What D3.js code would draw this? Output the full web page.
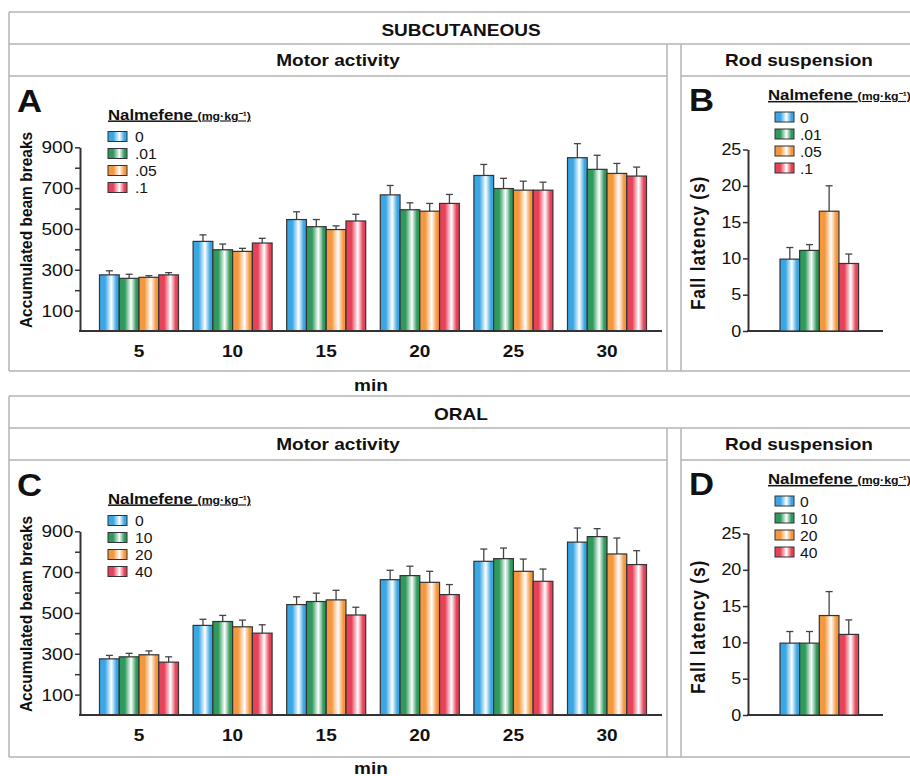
<!DOCTYPE html>
<html>
<head>
<meta charset="utf-8">
<script src="https://cdn.jsdelivr.net/npm/d3@7"></script>
<style>
	body { margin: 0; background: #fff; }
	text { font-family: "Liberation Sans", Arial, sans-serif; fill: #111; }
</style>
</head>
<body>
<div id="figure"></div>
<script>
// time points (min) on the motor activity x axis
var minutes = ["5", "10", "15", "20", "25", "30"];

// nalmefene doses (mg/kg) for each route
var scDoses   = ["0", ".01", ".05", ".1"];
var oralDoses = ["0", "10", "20", "40"];

// y tick values
var motorTicks      = [100, 300, 500, 700, 900];
var motorMinorTicks = [200, 400, 600, 800];
var rodTicks        = [0, 5, 10, 15, 20, 25];

// subcutaneous motor activity, accumulated beam breaks (rows = minutes, cols = doses)
var scMotorMean = [
	[275, 258, 263, 275],
	[439, 398, 390, 431],
	[546, 511, 497, 539],
	[667, 594, 587, 625],
	[762, 698, 690, 690],
	[849, 792, 772, 759]
];
var scMotorSem = [
	[20, 20, 8, 11],
	[32, 28, 15, 23],
	[38, 35, 18, 33],
	[46, 34, 38, 44],
	[54, 50, 44, 39],
	[69, 69, 49, 44]
];

// oral motor activity
var oralMotorMean = [
	[275, 285, 295, 259],
	[439, 458, 432, 401],
	[541, 556, 564, 490],
	[663, 683, 650, 590],
	[753, 766, 704, 655],
	[847, 874, 789, 737]
];
var oralMotorSem = [
	[17, 17, 19, 26],
	[30, 30, 33, 41],
	[38, 41, 47, 38],
	[46, 46, 54, 49],
	[60, 52, 60, 60],
	[69, 39, 78, 68]
];

// rod suspension, fall latency (s)
var scRodMean   = [9.9, 11.1, 16.5, 9.3];
var scRodSem    = [1.6, 0.8, 3.5, 1.3];
var oralRodMean = [9.9, 9.9, 13.7, 11.1];
var oralRodSem  = [1.6, 1.6, 3.3, 2.0];

// bar colours, one per dose
var doseColors = ["#3aa6e4", "#2f9a5c", "#f3983f", "#e6435a"];

function main() {

	const SVG_WIDTH  = 910;
	const SVG_HEIGHT = 776;
	// the figure's lettering is a bit wider than plain Arial
	const SX = 1.12;

	var svg = d3.select("#figure")
		.append("svg")
		.attr("width", SVG_WIDTH)
		.attr("height", SVG_HEIGHT);

	svg.append("rect")
		.attr("width", SVG_WIDTH)
		.attr("height", SVG_HEIGHT)
		.attr("fill", "#fff");

	// shiny gradients for the bars
	var defs = svg.append("defs");
	doseColors.forEach(function(c, i) {
		var grad = defs.append("linearGradient")
			.attr("id", "grad" + i)
			.attr("x1", "0%").attr("x2", "100%")
			.attr("y1", "0%").attr("y2", "0%");
		[[0, c], [0.28, c], [0.6, "#ffffff"], [0.86, c], [1, c]].forEach(function(s) {
			grad.append("stop").attr("offset", s[0]).attr("stop-color", s[1]);
		});
	});

	// text helper, stretches glyphs horizontally
	function label(g, str, x, y, size, weight, anchor, rotate) {
		return g.append("text")
			.attr("transform", "translate(" + x + "," + y + ") scale(" + SX + ",1)" + (rotate ? " rotate(-90)" : ""))
			.attr("font-size", size)
			.attr("font-weight", weight || "normal")
			.attr("text-anchor", anchor || "start")
			.text(str);
	}

	function line(g, x1, y1, x2, y2) {
		g.append("line").attr("x1", x1).attr("y1", y1).attr("x2", x2).attr("y2", y2);
	}

	function styleAxis(ax, size, weight) {
		ax.attr("font-size", size).attr("font-weight", weight || "normal");
		ax.selectAll("line").attr("stroke", "#333").attr("stroke-width", 1.5);
		ax.selectAll("path").attr("stroke", "#333").attr("stroke-width", 2);
		ax.selectAll("text").attr("transform", "scale(" + SX + ",1)");
	}

	function legend(g, x, y, doses, swatchX, textX) {
		var title = g.append("text")
			.attr("transform", "translate(" + x + "," + y + ") scale(" + SX + ",1)")
			.attr("font-weight", "bold")
			.attr("text-decoration", "underline");
		title.append("tspan").attr("font-size", 15).text("Nalmefene ");
		title.append("tspan").attr("font-size", 11).text("(mg·kg⁻¹)");

		doses.forEach(function(d, i) {
			var cy = y + 17 * (i + 1);
			g.append("rect")
				.attr("x", swatchX).attr("y", cy - 5)
				.attr("width", 19).attr("height", 10)
				.attr("fill", "url(#grad" + i + ")")
				.attr("stroke", "#333").attr("stroke-width", 1);
			label(g, d, textX, cy + 5.5, 14);
		});
	}

	function errorBars(g, rows, xPos, y) {
		var eb = g.append("g").attr("stroke", "#444").attr("stroke-width", 1.3);
		rows.forEach(function(r) {
			var cx = xPos(r);
			line(eb, cx, y(r.mean), cx, y(r.mean + r.sem));
			line(eb, cx - 3.5, y(r.mean + r.sem), cx + 3.5, y(r.mean + r.sem));
		});
	}

	function drawBlock(cfg) {
		var t = cfg.top;
		var g = svg.append("g");

		// panel frames
		var frame = g.append("g").attr("stroke", "#b3b3b3").attr("stroke-width", 1.5);
		line(frame, 9, t, 910, t);
		line(frame, 9, t + 32, 910, t + 32);
		line(frame, 9, t + 64, 667, t + 64);
		line(frame, 681, t + 64, 910, t + 64);
		line(frame, 9, cfg.bottom, 910, cfg.bottom);
		line(frame, 9, t, 9, cfg.bottom);
		line(frame, 667, t + 32, 667, cfg.bottom);
		line(frame, 681, t + 32, 681, cfg.bottom);

		// headings
		label(g, cfg.route, 461, t + 24, 17, "bold", "middle");
		label(g, "Motor activity", 338, t + 54, 17, "bold", "middle");
		label(g, "Rod suspension", 799, t + 54, 17, "bold", "middle");
		label(g, "min", 371, cfg.minY, 17, "bold", "middle");
		label(g, cfg.letters[0], 17, t + 99.5, 31, "bold");
		label(g, cfg.letters[1], 689, t + 99, 31, "bold");

		// ---- motor activity ----
		var y = d3.scaleLinear().domain([0, 900]).range([t + 319, t + 135.3]);
		var x0 = d3.scaleBand().domain(minutes).range([92.2, 653.8])
			.paddingInner(0.156).paddingOuter(0.078);
		var x1 = d3.scaleBand().domain(cfg.doses).range([0, x0.bandwidth()]);

		var rows = [];
		minutes.forEach(function(m, i) {
			cfg.doses.forEach(function(d, j) {
				rows.push({m: m, d: d, j: j, mean: cfg.motorMean[i][j], sem: cfg.motorSem[i][j]});
			});
		});

		errorBars(g, rows, function(r) { return x0(r.m) + x1(r.d) + x1.bandwidth() / 2; }, y);

		g.append("g").selectAll("rect")
			.data(rows)
			.enter()
			.append("rect")
			.attr("x", function(r) { return x0(r.m) + x1(r.d); })
			.attr("y", function(r) { return y(r.mean); })
			.attr("width", x1.bandwidth())
			.attr("height", function(r) { return y(0) - y(r.mean); })
			.attr("fill", function(r) { return "url(#grad" + r.j + ")"; })
			.attr("stroke", "#333")
			.attr("stroke-width", 1.2);

		var yAx = g.append("g").attr("transform", "translate(80,0)")
			.call(d3.axisLeft(y).tickValues(motorTicks).tickSize(5).tickPadding(1).tickSizeOuter(0));
		styleAxis(yAx, 17);
		var yMinor = g.append("g").attr("transform", "translate(80,0)")
			.call(d3.axisLeft(y).tickValues(motorMinorTicks).tickSize(5).tickFormat(""));
		yMinor.select(".domain").remove();
		styleAxis(yMinor, 17);

		var xAx = g.append("g").attr("transform", "translate(0," + y(0) + ")")
			.call(d3.axisBottom(x0).tickSize(0).tickPadding(14));
		xAx.select(".domain").remove();
		styleAxis(xAx, 17, "bold");

		var base = g.append("g").attr("stroke", "#333").attr("stroke-width", 2);
		line(base, 79, y(0), 662, y(0));

		label(g, "Accumulated beam breaks", 32, t + 218, 15.5, "bold", "middle", true);
		legend(g, 108, t + 107.5, cfg.doses, 108, 135);

		// ---- rod suspension ----
		var yr = d3.scaleLinear().domain([0, 25]).range([t + 319, t + 137.5]);
		var xr = d3.scaleBand().domain(cfg.doses).range([780, 858.6]);

		var rodRows = cfg.doses.map(function(d, j) {
			return {d: d, j: j, mean: cfg.rodMean[j], sem: cfg.rodSem[j]};
		});

		errorBars(g, rodRows, function(r) { return xr(r.d) + xr.bandwidth() / 2; }, yr);

		g.append("g").selectAll("rect")
			.data(rodRows)
			.enter()
			.append("rect")
			.attr("x", function(r) { return xr(r.d); })
			.attr("y", function(r) { return yr(r.mean); })
			.attr("width", xr.bandwidth())
			.attr("height", function(r) { return yr(0) - yr(r.mean); })
			.attr("fill", function(r) { return "url(#grad" + r.j + ")"; })
			.attr("stroke", "#333")
			.attr("stroke-width", 1.2);

		var yrAx = g.append("g").attr("transform", "translate(748,0)")
			.call(d3.axisLeft(yr).tickValues(rodTicks).tickSize(5).tickPadding(1).tickSizeOuter(0));
		styleAxis(yrAx, 16);
		line(base, 747, yr(0), 883, yr(0));

		label(g, "Fall latency (s)", 705, t + 231, 17.5, "bold", "middle", true)
			.attr("letter-spacing", 0.8);
		legend(g, 768, t + 88, cfg.doses, 775, 800);
	}

	drawBlock({
		top: 12, bottom: 371, minY: 390.5, route: "SUBCUTANEOUS", letters: ["A", "B"],
		doses: scDoses, motorMean: scMotorMean, motorSem: scMotorSem,
		rodMean: scRodMean, rodSem: scRodSem
	});

	drawBlock({
		top: 396, bottom: 757, minY: 773.5, route: "ORAL", letters: ["C", "D"],
		doses: oralDoses, motorMean: oralMotorMean, motorSem: oralMotorSem,
		rodMean: oralRodMean, rodSem: oralRodSem
	});
}

function whenDocumentLoaded(action) {
	if (document.readyState === "loading") {
		document.addEventListener("DOMContentLoaded", action);
	} else {
		action();
	}
}

whenDocumentLoaded(() => {
	main()
});
</script>
</body>
</html>
